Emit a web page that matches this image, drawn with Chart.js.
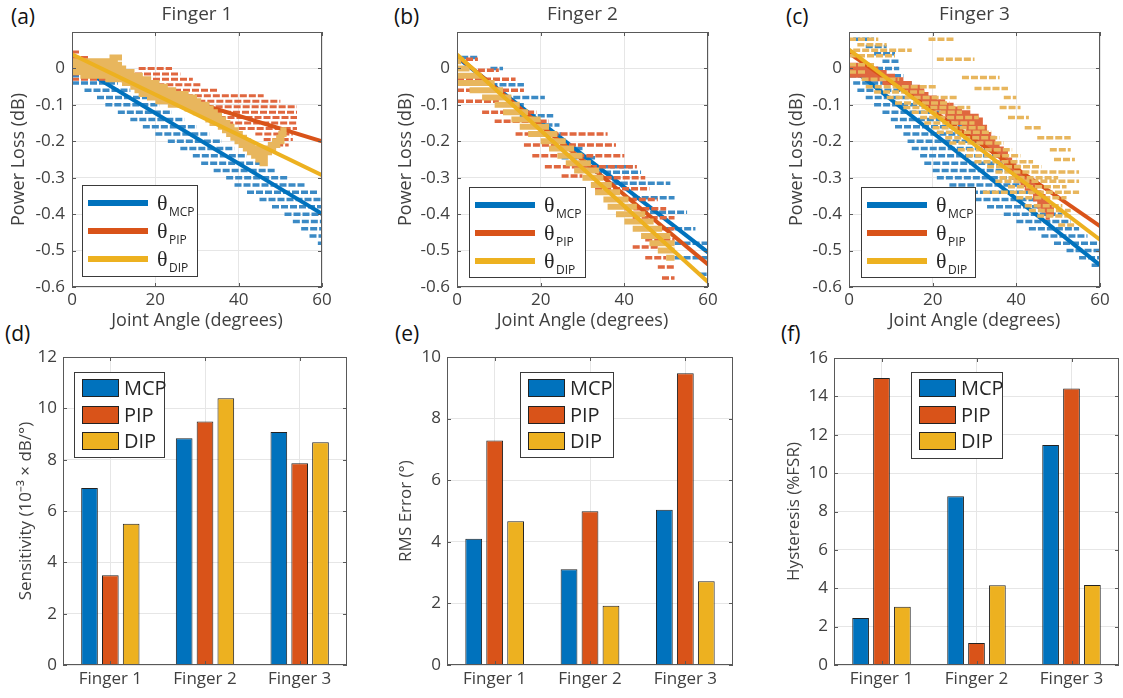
<!DOCTYPE html>
<html>
<head>
<meta charset="utf-8">
<title>Finger joint sensors</title>
<script src="https://cdn.jsdelivr.net/npm/chart.js@4.4.1/dist/chart.umd.min.js"></script>
<style>
  body { margin: 0; background: #fff; width: 1123px; height: 698px; position: relative; overflow: hidden; font-family: "Open Sans", sans-serif; }
  canvas { position: absolute; }
  .tag { position: absolute; font-size: 21px; line-height: 1; color: #111; }
</style>
</head>
<body>
<div class="tag" style="left:11px;top:6px">(a)</div>
<div class="tag" style="left:394px;top:6px">(b)</div>
<div class="tag" style="left:786px;top:6px">(c)</div>
<div class="tag" style="left:5px;top:323px">(d)</div>
<div class="tag" style="left:395px;top:323px">(e)</div>
<div class="tag" style="left:781px;top:323px">(f)</div>

<canvas id="pa" width="330" height="335" style="left:8px;top:0"></canvas>
<canvas id="pb" width="330" height="335" style="left:395px;top:0"></canvas>
<canvas id="pc" width="332" height="335" style="left:786px;top:0"></canvas>
<canvas id="pd" width="350" height="358" style="left:16px;top:340px"></canvas>
<canvas id="pe" width="352" height="358" style="left:396px;top:340px"></canvas>
<canvas id="pf" width="339" height="358" style="left:784px;top:340px"></canvas>

<script>
// ---- data -------------------------------------------------------------
const jointNames = ["MCP", "PIP", "DIP"];
const fingerNames = ["Finger 1", "Finger 2", "Finger 3"];

const angleTicks = [0, 20, 40, 60];
const lossTicks = [-0.6, -0.5, -0.4, -0.3, -0.2, -0.1, 0];
const sensTicks = [0, 2, 4, 6, 8, 10, 12];
const rmsTicks = [0, 2, 4, 6, 8, 10];
const hystTicks = [0, 2, 4, 6, 8, 10, 12, 14, 16];

// fitted lines: loss at 0 deg and at 60 deg (MCP, PIP, DIP)
const fitAngles = [0, 60];
const fitLoss1 = [[0.015, -0.399], [0.010, -0.200], [0.039, -0.293]];
const fitLoss2 = [[0.031, -0.505], [0.035, -0.538], [0.038, -0.586]];
const fitLoss3 = [[0.006, -0.540], [0.042, -0.433], [0.052, -0.470]];

// measured samples, read as horizontal runs: [loss dB, from deg, to deg]
const f1Mcp = [
  [-0.02, 0, 8], [-0.04, 0, 11], [-0.06, 3, 14], [-0.08, 6, 18], [-0.10, 8, 21],
  [-0.12, 11, 24], [-0.14, 14, 27], [-0.16, 17, 30], [-0.18, 20, 33], [-0.20, 23, 36],
  [-0.22, 26, 39], [-0.24, 29, 42], [-0.26, 31, 46], [-0.28, 34, 49], [-0.30, 37, 52],
  [-0.32, 39, 56], [-0.34, 42, 59], [-0.36, 45, 60], [-0.38, 48, 60], [-0.40, 51, 60],
  [-0.42, 53, 60], [-0.44, 55, 60], [-0.46, 57, 60], [-0.48, 59, 60]
];
const f1Pip = [
  [0.045, 0, 2], [0.03, 0, 4], [0.0, 16, 24], [-0.015, 0, 26], [-0.03, 0, 29],
  [-0.045, 14, 31], [-0.06, 18, 35], [-0.075, 23, 46], [-0.09, 26, 50], [-0.105, 28, 54],
  [-0.12, 30, 54], [-0.135, 33, 54], [-0.15, 37, 54], [-0.165, 40, 54], [-0.18, 44, 53],
  [-0.195, 46, 53], [-0.21, 49, 52]
];
const f1Dip = [
  [0.03, 9, 12], [0.02, 0, 11], [0.01, 0, 12], [0.0, 0, 13], [-0.01, 0, 15], [-0.02, 2, 17],
  [-0.03, 8, 19], [-0.04, 12, 21], [-0.05, 14, 23], [-0.06, 15, 25], [-0.07, 16, 28],
  [-0.08, 18, 30], [-0.09, 20, 31], [-0.10, 23, 33], [-0.11, 27, 34], [-0.12, 29, 35],
  [-0.13, 31, 36], [-0.14, 32, 37], [-0.15, 33, 38], [-0.16, 35, 39], [-0.17, 36, 40],
  [-0.17, 50, 51.5], [-0.18, 37, 41], [-0.18, 49.5, 51.5], [-0.19, 38, 42], [-0.19, 49, 51],
  [-0.20, 39, 43], [-0.20, 48, 51], [-0.21, 40, 44], [-0.21, 47, 50], [-0.22, 41, 49],
  [-0.23, 42, 48], [-0.24, 43, 47], [-0.25, 44, 47], [-0.26, 45, 47]
];

const f2Mcp = [
  [0.03, 1, 5], [0.0, 8, 11], [-0.02, 0, 6], [-0.04, 0, 3], [-0.045, 8, 16],
  [-0.06, 5, 10], [-0.08, 7, 21], [-0.10, 10, 16], [-0.13, 15, 23], [-0.155, 19, 24.5],
  [-0.18, 18, 25], [-0.22, 22, 30], [-0.245, 25, 33], [-0.27, 28, 42], [-0.285, 33, 44],
  [-0.315, 37, 51], [-0.355, 42, 52], [-0.395, 44, 55], [-0.44, 50, 57], [-0.48, 52, 60],
  [-0.52, 52, 60], [-0.565, 58, 60]
];
const f2Pip = [
  [0.025, 0, 5], [-0.005, 5, 10], [-0.03, 0, 14], [-0.06, 0, 16], [-0.09, 0, 10],
  [-0.12, 6, 19], [-0.145, 9, 22], [-0.18, 14, 36], [-0.21, 16, 38], [-0.24, 18, 40],
  [-0.27, 21, 43], [-0.295, 25, 30], [-0.30, 31, 45], [-0.33, 33, 46], [-0.36, 37, 48],
  [-0.385, 40, 50], [-0.41, 42, 52], [-0.44, 44, 52], [-0.47, 45, 52], [-0.49, 42, 48],
  [-0.52, 45, 50], [-0.545, 48, 52], [-0.575, 49, 52]
];
const f2Dip = [
  [0.02, 0, 1], [0.0, 0, 3], [-0.02, 0, 6], [-0.04, 0, 9], [-0.06, 3, 11], [-0.08, 6, 13],
  [-0.10, 9, 15], [-0.12, 11, 17], [-0.14, 13, 20], [-0.16, 15, 22], [-0.18, 17, 24],
  [-0.20, 20, 26], [-0.22, 22, 28], [-0.24, 24, 30], [-0.26, 26, 32], [-0.28, 28, 34],
  [-0.30, 30, 35], [-0.32, 32, 37], [-0.34, 33, 39], [-0.36, 35, 41], [-0.38, 36, 43],
  [-0.40, 38, 45], [-0.42, 40, 47], [-0.44, 42, 49], [-0.46, 44, 51], [-0.48, 46, 52],
  [-0.50, 48, 52], [-0.52, 50, 52]
];

const f3Mcp = [
  [0.08, 1, 6], [0.06, 4, 9], [0.04, 6, 11], [0.02, 8, 12], [0.0, 0, 12], [-0.02, 0, 13],
  [-0.04, 1, 15], [-0.06, 2, 17], [-0.08, 4, 19], [-0.10, 6, 21], [-0.12, 8, 23],
  [-0.14, 10, 25], [-0.16, 11, 27], [-0.18, 13, 29], [-0.20, 14, 31], [-0.22, 15, 33],
  [-0.24, 17, 35], [-0.26, 18, 37], [-0.28, 20, 39], [-0.30, 21, 41], [-0.32, 24, 43],
  [-0.34, 27, 45], [-0.36, 30, 47], [-0.38, 33, 49], [-0.40, 37, 51], [-0.42, 40, 53],
  [-0.44, 43, 55], [-0.46, 46, 57], [-0.48, 49, 60], [-0.50, 52, 60], [-0.52, 55, 60],
  [-0.54, 58, 60]
];
const f3Pip = [
  [0.01, 0, 5], [0.0, 0, 7], [-0.01, 0, 9], [-0.02, 0, 11], [-0.03, 4, 13], [-0.04, 8, 15],
  [-0.05, 12, 17], [-0.06, 13, 18], [-0.07, 14, 19], [-0.08, 15, 21], [-0.09, 16, 23],
  [-0.10, 18, 25], [-0.11, 20, 27], [-0.12, 22, 29], [-0.13, 23, 31], [-0.14, 24, 32],
  [-0.15, 25, 32], [-0.16, 27, 33], [-0.17, 28, 33], [-0.18, 29, 34], [-0.19, 30, 35],
  [-0.20, 31, 35], [-0.21, 32, 36], [-0.22, 33, 37], [-0.23, 34, 38], [-0.24, 35, 38],
  [-0.25, 36, 39], [-0.26, 37, 40], [-0.27, 37, 41], [-0.28, 38, 41], [-0.29, 39, 42],
  [-0.30, 39, 43], [-0.31, 40, 44], [-0.32, 41, 45], [-0.33, 42, 45], [-0.34, 43, 46],
  [-0.35, 44, 47], [-0.36, 44, 48], [-0.37, 45, 48], [-0.38, 45, 49], [-0.39, 46, 49],
  [-0.40, 47, 49], [-0.41, 47, 48]
];
const f3Dip = [
  [0.08, 0, 7], [0.08, 19, 25], [0.065, 2, 9], [0.05, 1, 15], [0.035, 0, 11], [0.025, 21, 30],
  [0.01, 0, 6], [-0.01, 0, 4], [-0.025, 27, 36], [-0.03, 3, 12], [-0.05, 4, 21],
  [-0.055, 30, 38], [-0.065, 6, 18], [-0.08, 9, 26], [-0.08, 37, 40], [-0.095, 11, 24],
  [-0.107, 13, 29], [-0.107, 36, 41], [-0.12, 15, 27], [-0.135, 17, 31], [-0.135, 38, 43],
  [-0.15, 18, 30], [-0.163, 20, 33], [-0.163, 42, 46], [-0.175, 21, 34], [-0.19, 23, 36],
  [-0.19, 45, 53], [-0.205, 24, 37], [-0.223, 26, 39], [-0.223, 48, 53], [-0.24, 28, 41],
  [-0.25, 49, 54], [-0.256, 30, 44], [-0.27, 33, 46], [-0.284, 35, 55], [-0.30, 36, 50],
  [-0.31, 35, 55], [-0.325, 38, 52], [-0.34, 32, 55], [-0.355, 40, 52], [-0.377, 42, 51],
  [-0.39, 43, 53], [-0.405, 45, 53], [-0.43, 50, 54]
];

// bar values per finger
const sensMcp = [6.9, 8.83, 9.08];
const sensPip = [3.5, 9.49, 7.86];
const sensDip = [5.5, 10.39, 8.68];
const rmsMcp = [4.1, 3.11, 5.04];
const rmsPip = [7.29, 4.99, 9.47];
const rmsDip = [4.67, 1.92, 2.72];
const hystMcp = [2.45, 8.8, 11.47];
const hystPip = [14.96, 1.15, 14.41];
const hystDip = [3.03, 4.15, 4.17];

// ---- styling ----------------------------------------------------------
const lineColors = ["#0072BD", "#D95319", "#EDB120"];
const dotColors = ["#3b8ac5", "#e0673f", "#e8b65d"];
const gridColor = "#e6e6e6";
const frameColor = "#595959";
const textColor = "#404040";
const FONT = '"Open Sans", sans-serif';

Chart.defaults.font.family = FONT;
Chart.defaults.color = textColor;
Chart.defaults.animation = false;

// box around plot area + inward tick marks, like a MATLAB axes
const frame = {
  id: "frame",
  afterDatasetsDraw(chart) {
    const { ctx, chartArea: a } = chart;
    const xs = chart.scales.x, ys = chart.scales.y;
    ctx.save();
    ctx.strokeStyle = frameColor;
    ctx.lineWidth = 1;
    ctx.beginPath();
    xs.ticks.forEach((t, i) => {
      const px = Math.round(xs.getPixelForTick(i)) + 0.5;
      ctx.moveTo(px, a.bottom); ctx.lineTo(px, a.bottom - 4);
      ctx.moveTo(px, a.top); ctx.lineTo(px, a.top + 4);
    });
    ys.ticks.forEach((t, i) => {
      const py = Math.round(ys.getPixelForTick(i)) + 0.5;
      ctx.moveTo(a.left, py); ctx.lineTo(a.left + 4, py);
      ctx.moveTo(a.right, py); ctx.lineTo(a.right - 4, py);
    });
    ctx.stroke();
    ctx.strokeRect(Math.round(a.left) + 0.5, Math.round(a.top) + 0.5,
      Math.round(a.right - a.left) - 1, Math.round(a.bottom - a.top) - 1);
    ctx.restore();
  }
};

// legend box placed inside the axes
const boxLegend = {
  id: "boxLegend",
  afterDatasetsDraw(chart, args, opts) {
    if (!opts.box) return;
    const ctx = chart.ctx;
    const [bx, by, bw, bh] = opts.box;
    ctx.save();
    ctx.fillStyle = "#fff";
    ctx.fillRect(bx, by, bw, bh);
    ctx.strokeStyle = "#3a3a3a";
    ctx.lineWidth = 1;
    ctx.strokeRect(bx + 0.5, by + 0.5, bw, bh);
    jointNames.forEach((name, i) => {
      const cy = by + opts.rows[i];
      if (opts.kind === "line") {
        ctx.strokeStyle = lineColors[i];
        ctx.lineWidth = 6;
        ctx.beginPath();
        ctx.moveTo(bx + 6, cy); ctx.lineTo(bx + 66, cy);
        ctx.stroke();
        ctx.fillStyle = "#262626";
        ctx.textBaseline = "alphabetic";
        ctx.font = '22px "Liberation Serif", serif';
        ctx.fillText("\u03b8", bx + 75, cy + 7);
        ctx.font = "12px " + FONT;
        ctx.fillText(name, bx + 87, cy + 13);
      } else {
        ctx.fillStyle = lineColors[i];
        ctx.fillRect(bx + 8, cy - 9, 37, 18);
        ctx.strokeStyle = "#222";
        ctx.strokeRect(bx + 8.5, cy - 8.5, 36, 17);
        ctx.fillStyle = "#262626";
        ctx.textBaseline = "middle";
        ctx.font = "20px " + FONT;
        ctx.fillText(name, bx + 50, cy + 1);
      }
    });
    ctx.restore();
  }
};

function toDashes(rows) {
  const pts = [];
  rows.forEach(([y, x1, x2]) => {
    pts.push({ x: x1, y }, { x: x2, y }, { x: x2, y: null });
  });
  return pts;
}

function useTicks(values) {
  return s => { s.ticks = values.map(value => ({ value })); };
}

// g: yw = y-axis width, xh = x-axis height, th = top band, pr = right padding
function anglePanel(id, g, title, series, fits, widths, legendBox) {
  const datasets = [];
  series.forEach((rows, j) => {
    datasets.push({
      data: toDashes(rows), showLine: true, spanGaps: false,
      borderColor: dotColors[j], borderWidth: widths[j],
      borderDash: widths[j] <= 3.5 ? [7, 2] : [], borderCapStyle: "butt",
      pointRadius: 0, order: 6 - 2 * j
    });
    datasets.push({
      data: fitAngles.map((x, k) => ({ x, y: fits[j][k] })), showLine: true,
      borderColor: lineColors[j], borderWidth: 4, pointRadius: 0, order: 5 - 2 * j
    });
  });
  new Chart(document.getElementById(id), {
    type: "scatter",
    data: { datasets },
    options: {
      responsive: false,
      layout: { padding: { left: 0, right: g.pr, top: 0, bottom: 0 } },
      plugins: {
        legend: { display: false }, tooltip: { enabled: false },
        boxLegend: { box: legendBox, kind: "line", rows: [18, 46, 74] }
      },
      scales: {
        x: {
          type: "linear", min: 0, max: 60,
          afterBuildTicks: useTicks(angleTicks),
          afterFit: s => { s.height = g.xh; },
          grid: { color: gridColor, drawTicks: false },
          border: { display: false },
          ticks: { font: { size: 17 }, padding: 3, maxRotation: 0 },
          title: { display: true, text: "Joint Angle (degrees)", font: { size: 18 }, padding: { top: 0, bottom: 3 } }
        },
        top: {
          type: "linear", position: "top", min: 0, max: 60,
          afterFit: s => { s.height = g.th; },
          grid: { display: false }, border: { display: false },
          ticks: { display: false },
          title: { display: true, text: title, font: { size: 19 }, padding: { top: 3, bottom: 0 } }
        },
        y: {
          min: -0.6, max: 0.1,
          afterBuildTicks: useTicks(lossTicks),
          afterFit: s => { s.width = g.yw; },
          grid: { color: gridColor, drawTicks: false },
          border: { display: false },
          ticks: { font: { size: 17 }, padding: 7, callback: v => (v === 0 ? "0" : v.toFixed(1)) },
          title: { display: true, text: "Power Loss (dB)", font: { size: 18 }, padding: 0 }
        }
      }
    },
    plugins: [frame, boxLegend]
  });
}

function barPanel(id, g, yLabel, yTicks, values, legendBox) {
  new Chart(document.getElementById(id), {
    type: "bar",
    data: {
      labels: fingerNames,
      datasets: values.map((v, j) => ({
        label: jointNames[j], data: v,
        backgroundColor: lineColors[j], borderColor: "#222", borderWidth: 1,
        categoryPercentage: 0.66, barPercentage: 0.8
      }))
    },
    options: {
      responsive: false,
      layout: { padding: { left: 0, right: g.pr, top: g.pt, bottom: 0 } },
      plugins: {
        legend: { display: false }, tooltip: { enabled: false },
        boxLegend: { box: legendBox, kind: "rect", rows: [16, 43, 69] }
      },
      scales: {
        x: {
          afterFit: s => { s.height = g.xh; },
          grid: { color: gridColor, drawTicks: false, offset: false },
          border: { display: false },
          ticks: { font: { size: 17 }, padding: 4 }
        },
        y: {
          min: yTicks[0], max: yTicks[yTicks.length - 1],
          afterBuildTicks: useTicks(yTicks),
          afterFit: s => { s.width = g.yw; },
          grid: { color: gridColor, drawTicks: false },
          border: { display: false },
          ticks: { font: { size: 17 }, padding: 6 },
          title: { display: true, text: yLabel, font: { size: 17 }, padding: 0 }
        }
      }
    },
    plugins: [frame, boxLegend]
  });
}

anglePanel("pa", { yw: 64, xh: 48, th: 32, pr: 16 }, "Finger 1",
  [f1Mcp, f1Pip, f1Dip], fitLoss1, [3.5, 3, 6], [74, 185, 115, 91]);
anglePanel("pb", { yw: 62, xh: 48, th: 32, pr: 17 }, "Finger 2",
  [f2Mcp, f2Pip, f2Dip], fitLoss2, [3.5, 3.5, 6], [74, 187, 116, 90]);
anglePanel("pc", { yw: 63, xh: 48, th: 32, pr: 18 }, "Finger 3",
  [f3Mcp, f3Pip, f3Dip], fitLoss3, [3.5, 4, 3.5], [75, 187, 114, 90]);

barPanel("pd", { yw: 47, xh: 33, pt: 17, pr: 19 }, "Sensitivity (10\u207b\u00b3 \u00d7 dB/\u00b0)",
  sensTicks, [sensMcp, sensPip, sensDip], [58, 32, 90, 85]);
barPanel("pe", { yw: 51, xh: 33, pt: 17, pr: 15 }, "RMS Error (\u00b0)",
  rmsTicks, [rmsMcp, rmsPip, rmsDip], [124, 32, 93, 85]);
barPanel("pf", { yw: 50, xh: 33, pt: 18, pr: 4 }, "Hysteresis (%FSR)",
  hystTicks, [hystMcp, hystPip, hystDip], [127, 32, 91, 86]);
</script>
</body>
</html>
